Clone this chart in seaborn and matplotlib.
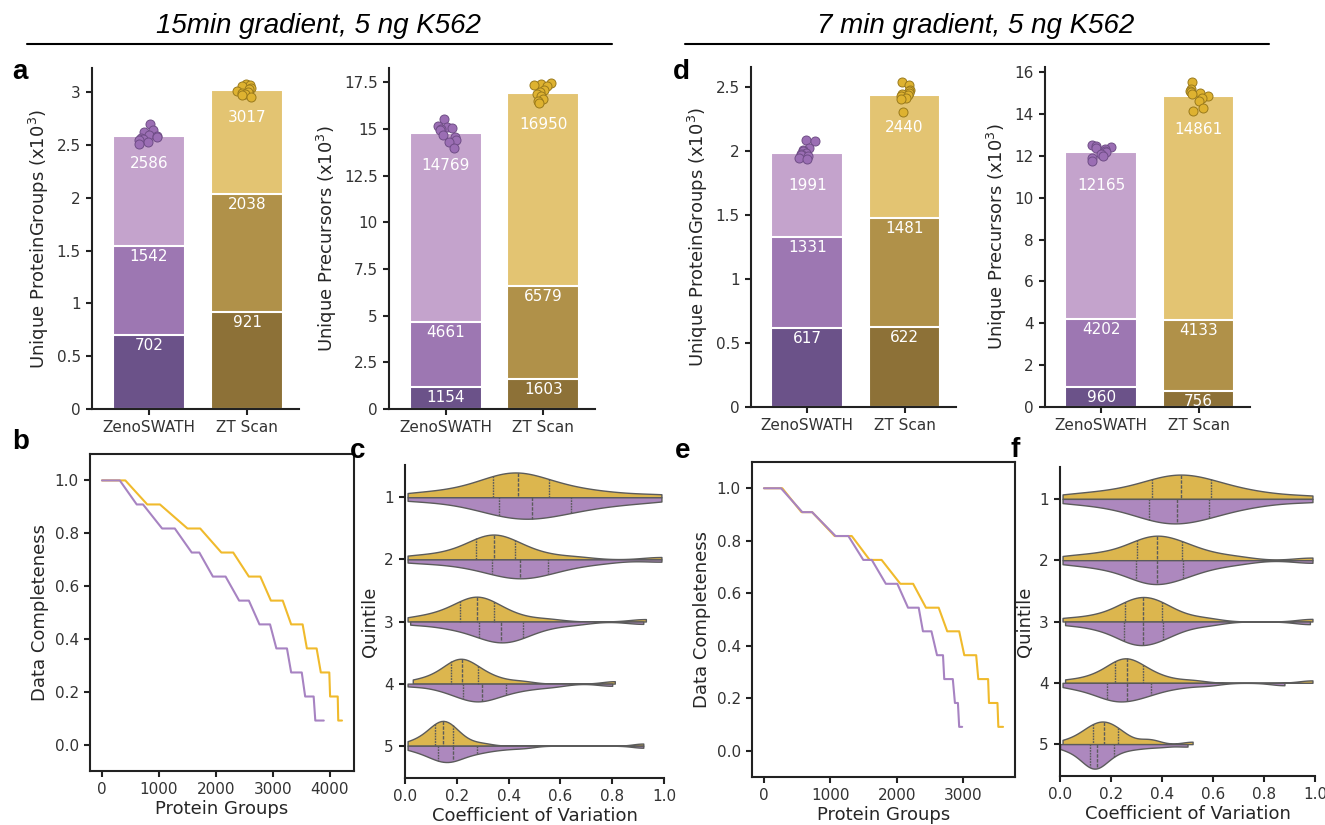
import numpy as np
import pandas as pd
import matplotlib
matplotlib.use('Agg')
import matplotlib.pyplot as plt
from matplotlib.lines import Line2D
from matplotlib.ticker import FormatStrFormatter
import seaborn as sns

np.random.seed(3)  # fixed jitter for the replicate dots

sns.set_style('ticks')
plt.rcParams['font.family'] = ['DejaVu Sans']
plt.rcParams['axes.edgecolor'] = '#222222'
plt.rcParams['axes.linewidth'] = 1.5
plt.rcParams['xtick.major.width'] = 1.5
plt.rcParams['ytick.major.width'] = 1.5
plt.rcParams['xtick.major.size'] = 4.5
plt.rcParams['ytick.major.size'] = 4.5
plt.rcParams['xtick.color'] = '#222222'
plt.rcParams['ytick.color'] = '#222222'
plt.rcParams['xtick.labelcolor'] = '#333333'
plt.rcParams['ytick.labelcolor'] = '#333333'

methods = ['ZenoSWATH', 'ZT Scan']
quintiles = ['1', '2', '3', '4', '5']

# stacked bar segments (counts), bottom -> top
pg15_zeno = [702, 1542, 2586]
pg15_zt = [921, 2038, 3017]
pr15_zeno = [1154, 4661, 14769]
pr15_zt = [1603, 6579, 16950]
pg7_zeno = [617, 1331, 1991]
pg7_zt = [622, 1481, 2440]
pr7_zeno = [960, 4202, 12165]
pr7_zt = [756, 4133, 14861]

# single runs (x10^3)
pg15_zeno_runs = [2.70, 2.64, 2.62, 2.60, 2.59, 2.58, 2.57, 2.56, 2.55, 2.53, 2.51]
pg15_zt_runs = [3.08, 3.07, 3.06, 3.04, 3.03, 3.01, 3.00, 2.99, 2.98, 2.97, 2.96]
pr15_zeno_runs = [15.55, 15.15, 15.1, 15.05, 15.0, 14.95, 14.7, 14.55, 14.4, 14.3, 14.0]
pr15_zt_runs = [17.45, 17.4, 17.35, 17.3, 17.1, 17.0, 16.9, 16.75, 16.6, 16.5, 16.4]
pg7_zeno_runs = [2.09, 2.08, 2.03, 2.01, 2.0, 1.99, 1.98, 1.97, 1.96, 1.95, 1.94]
pg7_zt_runs = [2.54, 2.52, 2.48, 2.47, 2.46, 2.45, 2.44, 2.43, 2.42, 2.41, 2.31]
pr7_zeno_runs = [12.5, 12.45, 12.4, 12.35, 12.3, 12.25, 12.2, 12.1, 12.0, 11.9, 11.75]
pr7_zt_runs = [15.5, 15.2, 15.1, 15.05, 15.0, 14.95, 14.85, 14.75, 14.6, 14.3, 14.15]

# data completeness curves
b_zt_x = [0, 410, 795, 1018, 1502, 1725, 2097, 2305, 2580, 2781, 2967, 3175, 3323, 3524,
          3599, 3770, 3844, 3993, 4007, 4141, 4150, 4216]
b_zt_y = [1.0, 1.0, 0.909, 0.909, 0.818, 0.818, 0.727, 0.727, 0.636, 0.636, 0.545, 0.545,
          0.455, 0.455, 0.364, 0.364, 0.273, 0.273, 0.182, 0.182, 0.091, 0.091]
b_zeno_x = [0, 312, 610, 721, 1056, 1279, 1576, 1710, 1948, 2171, 2409, 2580, 2766, 2952,
            3063, 3249, 3323, 3509, 3569, 3718, 3747, 3896]
b_zeno_y = b_zt_y
e_zt_x = [0, 276, 565, 726, 1066, 1323, 1593, 1773, 2055, 2248, 2441, 2633, 2762, 2942,
          3019, 3198, 3230, 3378, 3391, 3519, 3532, 3603]
e_zt_y = b_zt_y
e_zeno_x = [0, 257, 578, 726, 1079, 1272, 1497, 1625, 1837, 2010, 2171, 2332, 2396, 2524,
            2608, 2698, 2717, 2846, 2878, 2923, 2942, 2987]
e_zeno_y = b_zt_y

# CV per quintile, 15 min
cv15_zt = [
    [0.01, 0.12, 0.2, 0.26, 0.31, 0.341, 0.36, 0.38, 0.40, 0.42, 0.438, 0.455, 0.47, 0.49, 0.52, 0.556, 0.60, 0.65, 0.72, 0.82, 0.99],
    [0.01, 0.10, 0.17, 0.21, 0.25, 0.275, 0.29, 0.305, 0.32, 0.335, 0.345, 0.355, 0.37, 0.385, 0.405, 0.425, 0.45, 0.49, 0.55, 0.66, 0.99],
    [0.01, 0.08, 0.13, 0.16, 0.19, 0.214, 0.23, 0.245, 0.255, 0.267, 0.278, 0.29, 0.30, 0.315, 0.33, 0.344, 0.37, 0.40, 0.45, 0.55, 0.93],
    [0.03, 0.09, 0.12, 0.145, 0.165, 0.179, 0.19, 0.198, 0.205, 0.213, 0.221, 0.23, 0.242, 0.255, 0.268, 0.281, 0.30, 0.33, 0.37, 0.45, 0.81],
    [0.01, 0.05, 0.075, 0.09, 0.105, 0.116, 0.123, 0.13, 0.136, 0.142, 0.148, 0.155, 0.162, 0.17, 0.177, 0.184, 0.195, 0.21, 0.24, 0.30, 0.92],
]
cv15_zeno = [
    [0.01, 0.15, 0.24, 0.30, 0.34, 0.364, 0.39, 0.42, 0.445, 0.47, 0.489, 0.51, 0.54, 0.57, 0.60, 0.640, 0.68, 0.73, 0.80, 0.88, 0.99],
    [0.01, 0.12, 0.2, 0.26, 0.30, 0.335, 0.36, 0.385, 0.405, 0.425, 0.444, 0.465, 0.485, 0.505, 0.53, 0.553, 0.59, 0.63, 0.69, 0.78, 0.99],
    [0.02, 0.12, 0.18, 0.22, 0.26, 0.287, 0.305, 0.325, 0.34, 0.355, 0.372, 0.39, 0.405, 0.42, 0.435, 0.454, 0.48, 0.52, 0.57, 0.66, 0.92],
    [0.01, 0.1, 0.15, 0.18, 0.205, 0.223, 0.24, 0.255, 0.27, 0.283, 0.296, 0.31, 0.325, 0.345, 0.365, 0.39, 0.42, 0.46, 0.51, 0.58, 0.80],
    [0.01, 0.05, 0.08, 0.10, 0.115, 0.126, 0.14, 0.152, 0.163, 0.174, 0.184, 0.195, 0.21, 0.228, 0.25, 0.277, 0.30, 0.34, 0.39, 0.46, 0.92],
]
# CV per quintile, 7 min
cv7_zt = [
    [0.01, 0.12, 0.2, 0.26, 0.32, 0.360, 0.385, 0.41, 0.43, 0.452, 0.473, 0.495, 0.515, 0.54, 0.565, 0.593, 0.63, 0.68, 0.74, 0.83, 0.99],
    [0.01, 0.1, 0.17, 0.22, 0.27, 0.302, 0.32, 0.338, 0.352, 0.367, 0.382, 0.4, 0.42, 0.44, 0.46, 0.48, 0.51, 0.55, 0.61, 0.70, 0.99],
    [0.01, 0.1, 0.16, 0.2, 0.235, 0.256, 0.27, 0.285, 0.3, 0.313, 0.327, 0.34, 0.355, 0.37, 0.385, 0.399, 0.42, 0.45, 0.5, 0.58, 0.99],
    [0.02, 0.1, 0.14, 0.17, 0.195, 0.214, 0.225, 0.235, 0.244, 0.252, 0.261, 0.272, 0.284, 0.297, 0.312, 0.327, 0.35, 0.38, 0.43, 0.52, 0.99],
    [0.01, 0.06, 0.085, 0.1, 0.115, 0.128, 0.138, 0.148, 0.157, 0.165, 0.174, 0.185, 0.195, 0.205, 0.217, 0.228, 0.245, 0.27, 0.34, 0.36, 0.52],
]
cv7_zeno = [
    [0.01, 0.13, 0.21, 0.27, 0.32, 0.349, 0.37, 0.395, 0.415, 0.437, 0.457, 0.48, 0.505, 0.53, 0.555, 0.585, 0.62, 0.67, 0.73, 0.82, 0.99],
    [0.01, 0.11, 0.17, 0.22, 0.265, 0.297, 0.315, 0.333, 0.348, 0.364, 0.380, 0.4, 0.42, 0.44, 0.462, 0.483, 0.515, 0.555, 0.61, 0.70, 0.99],
    [0.02, 0.11, 0.16, 0.2, 0.232, 0.252, 0.267, 0.282, 0.297, 0.31, 0.324, 0.338, 0.355, 0.372, 0.39, 0.405, 0.43, 0.46, 0.51, 0.59, 0.98],
    [0.01, 0.07, 0.11, 0.14, 0.165, 0.183, 0.2, 0.215, 0.23, 0.245, 0.261, 0.278, 0.295, 0.315, 0.335, 0.357, 0.39, 0.43, 0.49, 0.58, 0.88],
    [0.0, 0.04, 0.07, 0.09, 0.105, 0.116, 0.122, 0.128, 0.134, 0.14, 0.145, 0.152, 0.16, 0.172, 0.19, 0.211, 0.24, 0.28, 0.33, 0.40, 0.50],
]

purple_bars = ['#6b5289', '#9d77b2', '#c4a3cc']
gold_bars = ['#8d7137', '#b09149', '#e3c472']
purple_dot, purple_edge = '#9b6eb4', '#6f4d86'
gold_dot, gold_edge = '#deb230', '#9a7a1c'
purple_line, gold_line = '#a783c2', '#f0ba2c'
purple_violin, gold_violin = '#ad88be', '#dcb64e'

W, H = 1325, 825
fig = plt.figure(figsize=(W / 100, H / 100), dpi=100)


def px_axes(x0, y0, x1, y1):
    return fig.add_axes([x0 / W, 1 - y1 / H, (x1 - x0) / W, (y1 - y0) / H])


def draw_bars(ax, zeno, zt, zeno_runs, zt_runs, ymax, ystep, ylabel, top_off):
    for k in [2, 1, 0]:
        sns.barplot(x=methods, y=[zeno[k] / 1000, zt[k] / 1000], hue=methods,
                    palette=[purple_bars[k], gold_bars[k]], saturation=1, width=0.74,
                    edgecolor='white', linewidth=1.5, legend=False, ax=ax)
        for i, v in enumerate([zeno[k], zt[k]]):
            off = top_off if k == 2 else 7.5
            ax.annotate(str(v), xy=(i, v / 1000), xytext=(0, -off), textcoords='offset points',
                        ha='center', va='center', color='white', fontsize=11)
    sns.stripplot(x=['ZenoSWATH'] * len(zeno_runs), y=zeno_runs, order=methods, color=purple_dot,
                  edgecolor=purple_edge, linewidth=0.7, size=6.5, jitter=0.11, ax=ax)
    sns.stripplot(x=['ZT Scan'] * len(zt_runs), y=zt_runs, order=methods, color=gold_dot,
                  edgecolor=gold_edge, linewidth=0.7, size=6.5, jitter=0.11, ax=ax)
    ax.set_xlim(-0.58, 1.53)
    ax.set_ylim(0, ymax)
    ax.set_yticks(np.arange(0, ymax, ystep))
    ax.yaxis.set_major_formatter(FormatStrFormatter('%g'))
    ax.set_xlabel('')
    ax.set_ylabel(ylabel, fontsize=13)
    ax.tick_params(labelsize=11)
    sns.despine(ax=ax)


def draw_completeness(ax, zt_x, zt_y, zeno_x, zeno_y):
    sns.lineplot(x=zt_x, y=zt_y, color=gold_line, linewidth=1.5, estimator=None, sort=False, ax=ax)
    sns.lineplot(x=zeno_x, y=zeno_y, color=purple_line, linewidth=1.5, estimator=None, sort=False, ax=ax)
    ax.set_ylim(-0.1, 1.1)
    ax.set_yticks([0, 0.2, 0.4, 0.6, 0.8, 1.0])
    ax.yaxis.set_major_formatter(FormatStrFormatter('%.1f'))
    ax.set_xlabel('Protein Groups', fontsize=13, labelpad=2)
    ax.set_ylabel('Data Completeness', fontsize=13)
    ax.tick_params(labelsize=11)


def draw_violins(ax, zt_lists, zeno_lists, bws):
    rows = []
    for q, zt_vals, zeno_vals in zip(quintiles, zt_lists, zeno_lists):
        rows += [(q, 'ZT Scan', v) for v in zt_vals]
        rows += [(q, 'ZenoSWATH', v) for v in zeno_vals]
    df = pd.DataFrame(rows, columns=['Quintile', 'Method', 'CV'])
    # one call per quintile so the two halves are scaled against each other only
    for q, bw in zip(quintiles, bws):
        sns.violinplot(data=df[df['Quintile'] == q], x='CV', y='Quintile', hue='Method',
                       hue_order=['ZT Scan', 'ZenoSWATH'], order=quintiles, split=True,
                       inner='quart', cut=0, density_norm='area', common_norm=True,
                       bw_adjust=bw, palette=[gold_violin, purple_violin], saturation=1,
                       linecolor='#5b5b5b', linewidth=1, width=0.8, legend=False, ax=ax)
    ax.set_xlim(0, 1)
    ax.set_ylim(4.52, -0.52)
    ax.set_xticks(np.arange(0, 1.01, 0.2))
    ax.xaxis.set_major_formatter(FormatStrFormatter('%.1f'))
    ax.set_xlabel('Coefficient of Variation', fontsize=13, labelpad=2)
    ax.set_ylabel('Quintile', fontsize=13)
    ax.tick_params(labelsize=11)
    sns.despine(ax=ax)


ylab_pg = 'Unique ProteinGroups (x10$^3$)'
ylab_pr = 'Unique Precursors (x10$^3$)'

ax_a1 = px_axes(92, 68, 299, 409)
draw_bars(ax_a1, pg15_zeno, pg15_zt, pg15_zeno_runs, pg15_zt_runs, 3.23, 0.5, ylab_pg, 19.5)
ax_a2 = px_axes(389, 68, 595, 409)
draw_bars(ax_a2, pr15_zeno, pr15_zt, pr15_zeno_runs, pr15_zt_runs, 18.27, 2.5, ylab_pr, 23)
ax_d1 = px_axes(751, 67, 956, 407)
draw_bars(ax_d1, pg7_zeno, pg7_zt, pg7_zeno_runs, pg7_zt_runs, 2.66, 0.5, ylab_pg, 23.5)
ax_d2 = px_axes(1045, 67, 1250, 407)
draw_bars(ax_d2, pr7_zeno, pr7_zt, pr7_zeno_runs, pr7_zt_runs, 16.24, 2, ylab_pr, 24)

ax_b = px_axes(90, 454, 354, 771)
draw_completeness(ax_b, b_zt_x, b_zt_y, b_zeno_x, b_zeno_y)
ax_e = px_axes(752, 462, 1015, 777)
draw_completeness(ax_e, e_zt_x, e_zt_y, e_zeno_x, e_zeno_y)

ax_c = px_axes(405, 465, 664, 778)
draw_violins(ax_c, cv15_zt, cv15_zeno, [0.8, 0.65, 0.6, 0.55, 0.4])
ax_f = px_axes(1060, 467, 1315, 776)
draw_violins(ax_f, cv7_zt, cv7_zeno, [0.8, 0.65, 0.55, 0.5, 0.65])

# section titles with rules
for cx, x0, x1, title in [(318, 27, 612, '15min gradient, 5 ng K562'),
                          (976, 685, 1269, '7 min gradient, 5 ng K562')]:
    fig.text(cx / W, 1 - 33 / H, title, ha='center', va='baseline', fontsize=20,
             style='italic', family='Liberation Sans', color='black')
    fig.add_artist(Line2D([x0 / W, x1 / W], [1 - 43.5 / H, 1 - 43.5 / H],
                          color='black', linewidth=1.5, transform=fig.transFigure))

for letter, x, y in [('a', 12, 79), ('b', 12, 449), ('c', 350, 458),
                     ('d', 673, 79), ('e', 675, 458), ('f', 1010, 457)]:
    fig.text(x / W, 1 - y / H, letter, ha='left', va='baseline', fontsize=20,
             fontweight='bold', family='Liberation Sans', color='black')

fig.savefig('out.png', dpi=100)
